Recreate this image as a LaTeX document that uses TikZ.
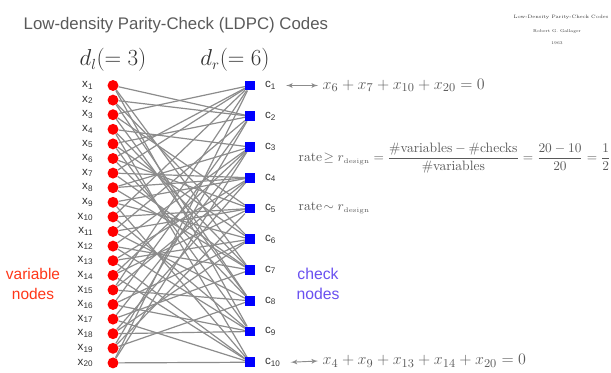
\documentclass[tikz,border=0pt]{standalone}
\usepackage{fontspec}
\setsansfont{Liberation Sans}
\usepackage{amsmath,amssymb}
\usetikzlibrary{arrows,positioning,calc,backgrounds}
\definecolor{edgegray}{RGB}{140,140,140}
\definecolor{txtgray}{RGB}{90,90,90}
\definecolor{dgray}{RGB}{50,50,50}
\definecolor{varred}{RGB}{255,0,0}
\definecolor{labred}{RGB}{255,55,25}
\definecolor{chkblue}{RGB}{0,0,255}
\definecolor{labpurple}{RGB}{105,80,240}

\begin{document}
\begin{tikzpicture}[x=0.75pt,y=-0.75pt,>=latex',line join=bevel,
  var/.style={circle,fill=varred,inner sep=0pt,minimum size=8.2pt},
  chk/.style={rectangle,fill=chkblue,inner sep=0pt,minimum size=7.2pt},
  lab/.style={font=\sffamily\fontsize{8.7}{9}\selectfont,text=dgray},
  edge/.style={draw=edgegray,line width=0.9pt},
  eqn/.style={anchor=west,text=txtgray,font=\fontsize{12.4}{14}\selectfont}]
\useasboundingbox (0,0) rectangle (611,372);

\node[anchor=west,font=\sffamily\fontsize{12.6}{14}\selectfont,text=txtgray] (title) at (19,25) {Low-density Parity-Check (LDPC) Codes};
\node[font=\fontsize{3.6}{4}\selectfont,text=dgray] (book) at (561,17) {Low-Density Parity-Check Codes};
\node[font=\fontsize{3.1}{4}\selectfont,text=dgray] (author) at (557,31) {Robert G. Gallager};
\node[font=\fontsize{3.1}{4}\selectfont,text=dgray] (year) at (557,43) {1963};

\node[font=\fontsize{16}{18}\selectfont,text=dgray] (dl) at (113,60) {$d_l(=3)$};
\node[font=\fontsize{16}{18}\selectfont,text=dgray] (dr) at (235,60) {$d_r(=6)$};

% variable and check nodes
\foreach \i in {1,...,20}{
  \node[var] (x\i) at (113,{85.5+(\i-1)*14.6}) {};
  \node[lab,left=7pt of x\i] (xl\i) {x\textsubscript{\i}};
}
\foreach \j in {1,...,10}{
  \node[chk] (c\j) at (250,{85.5+(\j-1)*30.75}) {};
  \node[lab,anchor=west,right=4pt of c\j] (cl\j) {c\textsubscript{\j}};
}

\begin{pgfonlayer}{background}
\foreach \j/\vlist in {1/{3,6,7,10,15,20},2/{1,2,5,11,16,19},3/{4,8,12,14,17,20},4/{7,8,9,13,15,18},5/{3,6,10,11,14,19},6/{2,5,9,13,16,18},7/{1,4,7,8,12,17},8/{2,3,6,11,15,19},9/{1,5,10,12,16,18},10/{4,9,13,14,17,20}}
  \foreach \i in \vlist \draw[edge] (x\i) -- (c\j);
\end{pgfonlayer}

\node[align=center,font=\sffamily\fontsize{11.6}{15}\selectfont,text=labred] (varlab) at (33,284) {variable\\nodes};
\node[align=center,font=\sffamily\fontsize{11.8}{15}\selectfont,text=labpurple] (chklab) at (318,284) {check\\nodes};

\node[eqn] (f1) at (318,85.5) {$x_6+x_7+x_{10}+x_{20}=0$};
\node[eqn] (f10) at (318,361) {$x_4+x_9+x_{13}+x_{14}+x_{20}=0$};
\draw[<->,edgegray,line width=0.7pt] ([xshift=4pt]cl1.east) -- (f1.west);
\draw[<->,edgegray,line width=0.7pt] ([xshift=4pt]cl10.east) -- (f10.west);

\node[anchor=west,text=txtgray,font=\fontsize{10.2}{12}\selectfont] (rate) at (294,158) {$\text{rate}\!\geq r_{\scriptscriptstyle\text{design}} = \dfrac{\#\text{variables}-\#\text{checks}}{\#\text{variables}} = \dfrac{20-10}{20} = \dfrac{1}{2}$};
\node[anchor=west,text=txtgray,font=\fontsize{10.2}{12}\selectfont] (approx) at (294,208) {$\text{rate}\!\sim r_{\scriptscriptstyle\text{design}}$};
\end{tikzpicture}
\end{document}
